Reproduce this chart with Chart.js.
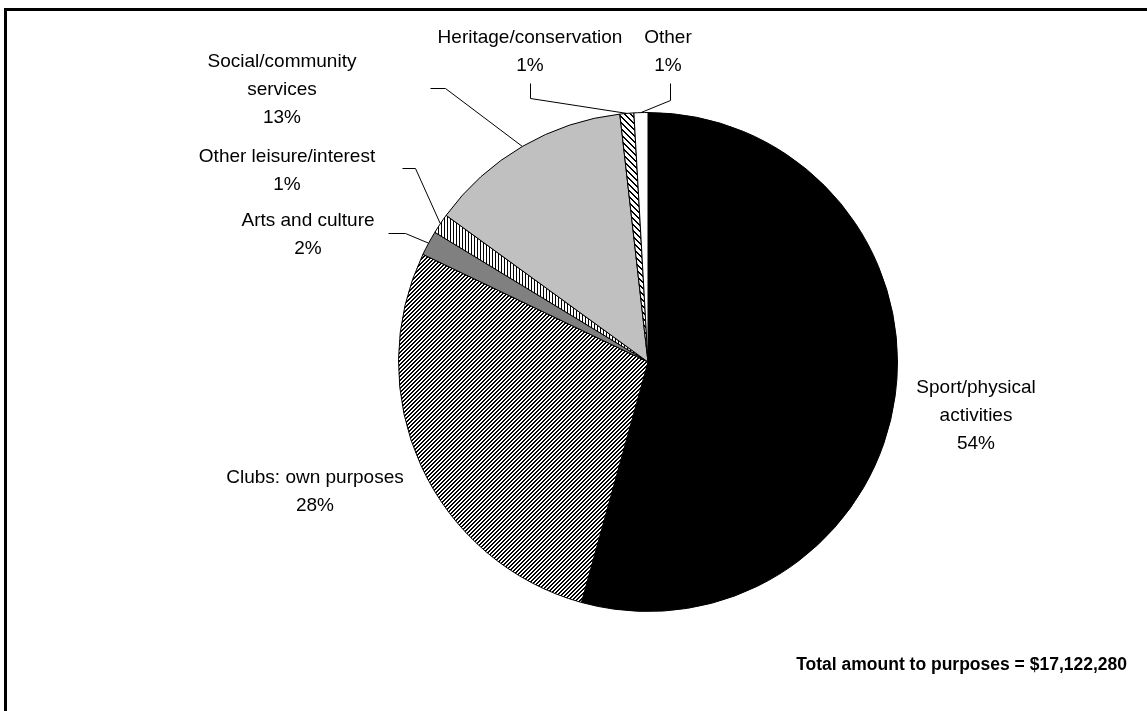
<!DOCTYPE html>
<html>
<head>
<meta charset="utf-8">
<title>Purposes</title>
<script src="https://cdn.jsdelivr.net/npm/chart.js@4/dist/chart.umd.min.js"></script>
<style>
    html, body { margin: 0; padding: 0; background: #fff; }
    #wrap { position: relative; width: 1147px; height: 711px; overflow: hidden; }
    #frame { position: absolute; left: 4px; top: 8px; width: 1200px; height: 800px;
             border-left: 3px solid #000; border-top: 3px solid #000; }
    #pieChart { position: absolute; left: 0; top: 0; }
</style>
</head>
<body>
<div id="wrap">
    <div id="frame"></div>
    <canvas id="pieChart" width="1147" height="711"></canvas>
</div>
<script>
// Purpose categories (label lines) and their share of the total, in percent
const purposeNames = [
    ['Sport/physical', 'activities'],
    ['Clubs: own purposes'],
    ['Arts and culture'],
    ['Other leisure/interest'],
    ['Social/community', 'services'],
    ['Heritage/conservation'],
    ['Other']
];
const purposeShares = [54.3, 27.8, 1.6, 1.3, 13.2, 0.9, 0.9];
const totalAmount = '$17,122,280';

const FONT = '"Liberation Sans", Arial, sans-serif';

// Small repeating tiles used as hatch fills
function makePattern(w, h, draw) {
    const c = document.createElement('canvas');
    c.width = w;
    c.height = h;
    const g = c.getContext('2d');
    g.fillStyle = '#fff';
    g.fillRect(0, 0, w, h);
    g.fillStyle = '#000';
    draw(g);
    return g.createPattern(c, 'repeat');
}

// dense upward diagonal
const upDiagonal = makePattern(4, 4, g => {
    for (let i = 0; i < 4; i++) {
        g.fillRect(i, 3 - i, 1, 1);
        g.fillRect((i + 1) % 4, 3 - i, 1, 1);
    }
});
// wider downward diagonal
const downDiagonal = makePattern(6, 6, g => {
    for (let i = 0; i < 6; i++) {
        g.fillRect(i, i, 1, 1);
        g.fillRect((i + 1) % 6, i, 1, 1);
    }
});
// thin vertical lines
const vertical = makePattern(3, 1, g => {
    g.fillRect(0, 0, 1, 1);
});

const sliceFills = ['#000000', upDiagonal, '#808080', vertical, '#c0c0c0', downDiagonal, '#ffffff'];

// Where each label block sits (centre x, first line y) and its leader line points
const labelLayout = [
    { x: 976, y: 388, lead: null },
    { x: 315, y: 478, lead: null },
    { x: 308, y: 221, lead: [[388, 233], [405, 233]] },
    { x: 287, y: 157, lead: [[402, 168], [415, 168]] },
    { x: 282, y: 62,  lead: [[430, 88], [445, 88]] },
    { x: 530, y: 38,  lead: [[530, 83], [530, 98]] },
    { x: 668, y: 38,  lead: [[670, 83], [670, 100]] }
];
const LINE_H = 28;

const pieLabels = {
    id: 'pieLabels',
    afterDraw(chart) {
        const ctx = chart.ctx;
        const arcs = chart.getDatasetMeta(0).data;
        const total = purposeShares.reduce((a, b) => a + b, 0);
        ctx.save();

        // leader lines
        ctx.strokeStyle = '#000';
        ctx.lineWidth = 1;
        arcs.forEach((arc, i) => {
            const lay = labelLayout[i];
            if (!lay.lead) return;
            const mid = (arc.startAngle + arc.endAngle) / 2;
            const ex = arc.x + Math.cos(mid) * arc.outerRadius;
            const ey = arc.y + Math.sin(mid) * arc.outerRadius;
            ctx.beginPath();
            ctx.moveTo(lay.lead[0][0] + 0.5, lay.lead[0][1] + 0.5);
            ctx.lineTo(lay.lead[1][0] + 0.5, lay.lead[1][1] + 0.5);
            ctx.lineTo(ex, ey);
            ctx.stroke();
        });

        // label text
        ctx.fillStyle = '#000';
        ctx.font = '19px ' + FONT;
        ctx.textAlign = 'center';
        ctx.textBaseline = 'middle';
        purposeNames.forEach((lines, i) => {
            const lay = labelLayout[i];
            const pct = Math.round(purposeShares[i] / total * 100) + '%';
            lines.concat([pct]).forEach((t, k) => {
                ctx.fillText(t, lay.x, lay.y + k * LINE_H);
            });
        });

        // total line
        ctx.font = 'bold 17.5px ' + FONT;
        ctx.textAlign = 'right';
        ctx.fillText('Total amount to purposes = ' + totalAmount, 1127, 665);
        ctx.restore();
    }
};

new Chart(document.getElementById('pieChart'), {
    type: 'pie',
    data: {
        labels: purposeNames.map(n => n.join(' ')),
        datasets: [{
            data: purposeShares,
            backgroundColor: sliceFills,
            borderColor: '#000',
            borderWidth: 1
        }]
    },
    options: {
        responsive: false,
        animation: false,
        layout: { padding: { left: 398, right: 249, top: 112, bottom: 99 } },
        plugins: {
            legend: { display: false },
            tooltip: { enabled: false }
        }
    },
    plugins: [pieLabels]
});
</script>
</body>
</html>
